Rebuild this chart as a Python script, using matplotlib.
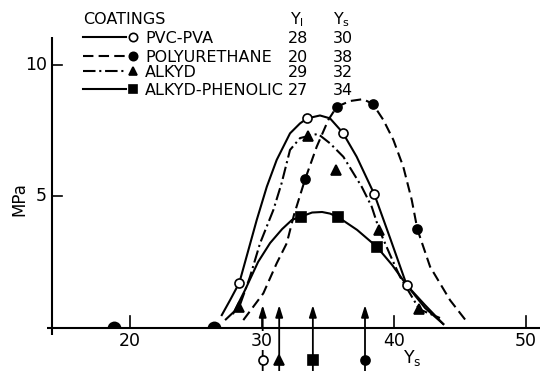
import matplotlib
matplotlib.use('Agg')
import matplotlib.pyplot as plt
from matplotlib.markers import MarkerStyle

plt.rcParams['font.family'] = 'DejaVu Sans'
plt.rcParams['mathtext.default'] = 'regular'

# legend table
coatings = ['PVC-PVA', 'POLYURETHANE', 'ALKYD', 'ALKYD-PHENOLIC']
y_l = [28, 20, 29, 27]
y_s = [30, 38, 32, 34]

# curves (Ys, MPa)
pvc_x = [26.95, 27.58, 28.28, 29.60, 30.36, 31.11, 32.12, 32.88, 33.43, 34.39,
         35.15, 36.11, 37.17, 38.51, 39.70, 40.96, 42.35, 43.73]
pvc_y = [0.49, 1.06, 1.72, 4.11, 5.37, 6.39, 7.40, 7.78, 7.97, 8.08,
         7.97, 7.43, 6.51, 5.08, 3.42, 1.63, 0.76, 0.15]
poly_x = [28.58, 30.10, 31.11, 31.87, 32.42, 33.26, 34.14, 35.02, 35.66, 36.67,
          37.65, 38.39, 39.19, 39.95, 40.70, 41.34, 41.77, 42.73, 44.24, 45.51]
poly_y = [0.30, 1.32, 2.46, 3.22, 4.30, 5.65, 6.89, 7.91, 8.41, 8.63,
          8.70, 8.52, 7.91, 7.15, 6.13, 4.87, 3.75, 2.33, 1.06, 0.24]
alk_x = [27.20, 28.28, 29.09, 29.85, 30.86, 31.48, 32.12, 32.88, 33.51, 34.24,
         35.15, 36.16, 37.55, 38.31, 38.88, 39.70, 40.45, 41.92, 43.48]
alk_y = [0.30, 0.81, 1.95, 3.22, 4.49, 5.50, 6.77, 7.22, 7.30, 7.38,
         7.02, 6.51, 5.37, 4.61, 3.73, 2.78, 1.95, 0.71, 0.38]
phen_x = [27.83, 28.71, 29.70, 30.61, 31.52, 32.27, 32.93, 33.79, 34.55, 35.15,
          35.78, 37.20, 38.69, 39.85, 40.96, 42.35, 43.73]
phen_y = [0.56, 1.44, 2.51, 3.23, 3.76, 4.11, 4.23, 4.39, 4.41, 4.35,
          4.21, 3.73, 3.09, 2.40, 1.63, 0.87, 0.15]

# measured points
pvc_px = [28.28, 33.43, 36.11, 38.51, 40.96]
pvc_py = [1.72, 7.97, 7.43, 5.08, 1.63]
poly_px = [33.26, 35.66, 38.39, 41.77]
poly_py = [5.65, 8.41, 8.52, 3.75]
alk_px = [28.28, 33.51, 35.61, 38.88, 41.92]
alk_py = [0.81, 7.30, 6.01, 3.73, 0.71]
phen_px = [32.93, 35.78, 38.69]
phen_py = [4.23, 4.21, 3.09]
zero_x = [18.75, 26.35]

# arrows below the axis: position and which coating
arrow_x = [30.05, 31.3, 33.85, 37.8]
arrow_idx = [0, 2, 3, 1]

dashed = (0, (5, 2.5))
dashdot = (0, (6, 1.8, 1, 1.8))
styles = [
    dict(ls='-', marker='o', mfc='white'),
    dict(ls=dashed, marker='o', mfc='black'),
    dict(ls=dashdot, marker='^', mfc='black'),
    dict(ls='-', marker='s', mfc='black'),
]
curves = [(pvc_x, pvc_y), (poly_x, poly_y), (alk_x, alk_y), (phen_x, phen_y)]
points = [(pvc_px, pvc_py), (poly_px, poly_py), (alk_px, alk_py), (phen_px, phen_py)]

fig = plt.figure(figsize=(5.51, 3.71), dpi=100)
ax = fig.add_axes([0, 0, 1, 1])
ax.set_xlim(10.15, 51.89)
ax.set_ylim(-1.635, 12.47)
ax.axis('off')

LW = 1.5
# axes lines
ax.plot([13.7, 51.06], [0, 0], color='black', lw=LW, solid_capstyle='butt', zorder=3)
ax.plot([14.09, 14.09], [-0.27, 11.07], color='black', lw=LW, solid_capstyle='butt', zorder=3)
for t in [20, 30, 40, 50]:
    ax.plot([t, t], [0, 0.45], color='black', lw=1.2)
    ax.text(t, -0.48, str(t), ha='center', va='center', fontsize=12.5,
            bbox=dict(fc='white', ec='none', pad=0.5), zorder=5)
for t in [5, 10]:
    ax.plot([14.09, 14.85], [t, t], color='black', lw=1.2)
    ax.text(13.7, t, str(t), ha='right', va='center', fontsize=12.5)
ax.text(11.65, 4.9, 'MPa', rotation=90, ha='center', va='center', fontsize=12)
ax.text(40.7, -1.15, 'Y$_s$', ha='left', va='center', fontsize=12.5)

for (cx, cy), (mx, my), st in zip(curves, points, styles):
    ax.plot(cx, cy, color='black', lw=LW, ls=st['ls'])
    ax.plot(mx, my, ls='none', marker=st['marker'], ms=6.5, mfc=st['mfc'],
            mec='black', mew=1.2, zorder=4)

# half-buried points sitting on the axis (lower half hidden)
dome = MarkerStyle('o', fillstyle='top')
ax.plot(zero_x, [0] * len(zero_x), ls='none', marker=dome, ms=10, mfc='black',
        mfcalt='white', mec='none', zorder=1)

# arrows with markers
for x, i in zip(arrow_x, arrow_idx):
    st = styles[i]
    ax.annotate('', xy=(x, 0.87), xytext=(x, -1.7),
                arrowprops=dict(arrowstyle='-|>,head_length=0.7,head_width=0.22',
                                lw=1.3, color='black', shrinkA=0, shrinkB=0), zorder=2)
    ax.plot([x], [-1.22], ls='none', marker=st['marker'], ms=6.5, mfc=st['mfc'],
            mec='black', mew=1.2, zorder=6)

# legend table
tr = ax.transAxes
fx = lambda px: px / 551
fy = lambda py: 1 - py / 371
ax.text(fx(83), fy(24), 'COATINGS', transform=tr, fontsize=11.5, va='baseline')
ax.text(fx(290), fy(24), 'Y$_l$', transform=tr, fontsize=11.5, va='baseline')
ax.text(fx(333), fy(24), 'Y$_s$', transform=tr, fontsize=11.5, va='baseline')
rows = [43, 62, 77, 95]
for name, yl, ys, st, r in zip(coatings, y_l, y_s, styles, rows):
    yc = fy(r - 6)
    ax.plot([fx(83), fx(126)], [yc, yc], transform=tr, color='black', lw=LW, ls=st['ls'])
    ax.plot([fx(133)], [yc], transform=tr, ls='none', marker=st['marker'], ms=6,
            mfc=st['mfc'], mec='black', mew=1.2)
    ax.text(fx(145), fy(r), name, transform=tr, fontsize=11.5, va='baseline')
    ax.text(fx(288), fy(r), str(yl), transform=tr, fontsize=11.5, va='baseline')
    ax.text(fx(333), fy(r), str(ys), transform=tr, fontsize=11.5, va='baseline')

fig.savefig('out.png', dpi=100)
